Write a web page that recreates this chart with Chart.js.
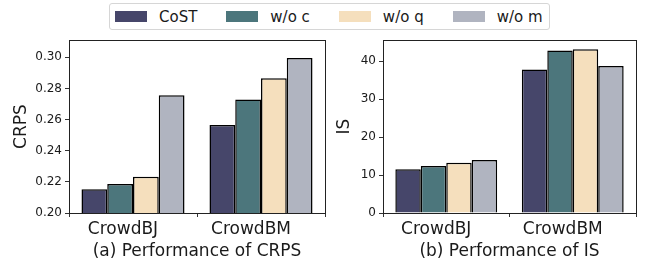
<!DOCTYPE html>
<html>
<head>
<meta charset="utf-8">
<script src="https://cdn.jsdelivr.net/npm/chart.js@4"></script>
<style>
    body { margin: 0; background: #fff; font-family: 'DejaVu Sans', sans-serif; }
    #wrap { position: relative; width: 648px; height: 265px; overflow: hidden; }
    #legend {
        position: absolute; left: 109px; top: 3px; width: 434px; height: 25px;
        border: 1px solid #d6d6d6; border-radius: 3px; background: #fff;
        display: flex; align-items: center; padding-left: 5px; box-sizing: content-box;
        white-space: nowrap;
    }
    .item { display: flex; align-items: center; flex: none; margin-right: 29px; font-size: 15px; color: #1a1a1a; white-space: nowrap; }
    .patch { width: 32px; height: 11px; margin-right: 12px; flex: none; }
    .panel { position: absolute; top: 30px; height: 235px; }
</style>
</head>
<body>
<div id="wrap">
    <div id="legend"></div>
    <div class="panel" style="left:0px; width:330px;"><canvas id="crpsChart"></canvas></div>
    <div class="panel" style="left:330px; width:318px;"><canvas id="isChart"></canvas></div>
</div>
<script>
// Data
const datasets_ = ['CrowdBJ', 'CrowdBM'];
const methods = ['CoST', 'w/o c', 'w/o q', 'w/o m'];
const colors = ['#46466a', '#4c767c', '#f5dfbd', '#b0b4c0'];

const crpsCoST = [0.2152, 0.2565];
const crpsNoC  = [0.2187, 0.2729];
const crpsNoQ  = [0.2233, 0.2866];
const crpsNoM  = [0.2756, 0.2996];

const isCoST = [11.5, 37.8];
const isNoC  = [12.4, 42.8];
const isNoQ  = [13.2, 43.1];
const isNoM  = [13.95, 38.7];

const FONT = "'DejaVu Sans', sans-serif";
const INK = '#1a1a1a';

// Legend
const legend = document.getElementById('legend');
methods.forEach((m, i) => {
    const item = document.createElement('div');
    item.className = 'item';
    item.innerHTML = `<span class="patch" style="background:${colors[i]}"></span><span>${m}</span>`;
    legend.appendChild(item);
});

// full frame round the plot area
const framePlugin = {
    id: 'frame',
    afterDraw(chart) {
        const a = chart.chartArea;
        const ctx = chart.ctx;
        ctx.save();
        ctx.strokeStyle = '#222';
        ctx.lineWidth = 1;
        ctx.strokeRect(Math.round(a.left) + 0.5, Math.round(a.top) + 0.5,
            Math.round(a.right - a.left), Math.round(a.bottom - a.top));
        ctx.restore();
    }
};

function makeChart(id, series, yTitle, xTitle, opts) {
    const ctx = document.getElementById(id).getContext('2d');
    return new Chart(ctx, {
        type: 'bar',
        data: {
            labels: datasets_,
            datasets: series.map((s, i) => ({
                label: methods[i],
                data: s,
                backgroundColor: colors[i],
                borderColor: '#000',
                borderWidth: 1.5,
                categoryPercentage: 0.805,
                barPercentage: 1.0
            }))
        },
        plugins: [framePlugin],
        options: {
            responsive: true,
            maintainAspectRatio: false,
            animation: false,
            layout: { padding: { top: 7, right: opts.padRight, left: 0, bottom: 0 } },
            plugins: { legend: { display: false }, tooltip: { enabled: false } },
            scales: {
                x: {
                    grid: { drawOnChartArea: false, tickLength: 4, color: '#333' },
                    border: { color: '#333' },
                    ticks: { color: INK, font: { family: FONT, size: 17 }, padding: 2, labelOffset: -10 },
                    title: { display: true, text: xTitle, color: INK, font: { family: FONT, size: 17 }, padding: { top: 0, bottom: 3 } },
                    afterFit(scale) { scale.height = 52; }
                },
                y: {
                    min: opts.min,
                    max: opts.max,
                    grid: { drawOnChartArea: false, tickLength: 4, color: '#333' },
                    border: { color: '#333' },
                    ticks: {
                        stepSize: opts.step,
                        includeBounds: false,
                        color: INK,
                        font: { family: FONT, size: 12 },
                        padding: 3,
                        callback: opts.fmt
                    },
                    title: { display: true, text: yTitle, color: INK, font: { family: FONT, size: 17 }, padding: { top: opts.titlePad, bottom: 0 } },
                    afterFit(scale) { scale.width = opts.yWidth; }
                }
            }
        }
    });
}

makeChart('crpsChart', [crpsCoST, crpsNoC, crpsNoQ, crpsNoM], 'CRPS', '(a) Performance of CRPS', {
    min: 0.2, max: 0.311, step: 0.02, fmt: v => v.toFixed(2),
    yWidth: 69, padRight: 5, titlePad: 11
});

makeChart('isChart', [isCoST, isNoC, isNoQ, isNoM], 'IS', '(b) Performance of IS', {
    min: 0, max: 45.5, step: 10, fmt: v => v.toFixed(0),
    yWidth: 53, padRight: 12, titlePad: 4
});
</script>
</body>
</html>
